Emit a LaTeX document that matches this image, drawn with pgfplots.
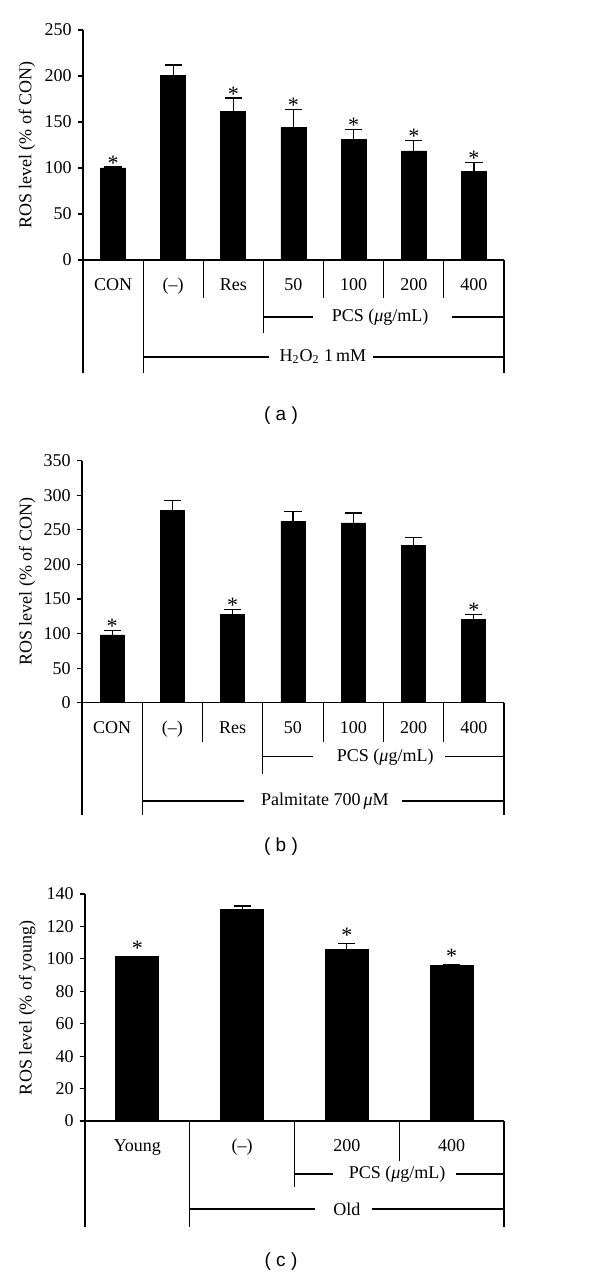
\documentclass[border=0pt]{standalone}
\usepackage{pgfplots}
\pgfplotsset{compat=1.18}
\usepackage{fontspec}
\setmainfont{Liberation Serif}
\newfontfamily\capfont{Liberation Sans}

\pgfplotsset{
  rosbar/.style={
    scale only axis,
    anchor=south west,
    axis x line*=bottom,
    axis y line*=left,
    axis line style={-, line width=0.6pt},
    enlargelimits=false,
    ymin=0,
    clip=false,
    tick align=outside,
    ytick pos=left,
    major tick length=2.5pt,
    major x tick style={draw=none},
    every tick/.style={black, line width=0.6pt},
    /pgf/number format/assume math mode=true,
    tick label style={font=\fontsize{9}{10}\selectfont},
    label style={font=\fontsize{9}{10}\selectfont},
  },
  barstyle/.style={ybar, bar width=#1, fill=black, draw=black,
    error bars/.cd, y dir=plus, y explicit,
    error bar style={line width=0.6pt, black},
    error mark options={rotate=90, mark size=4.3pt, line width=0.6pt, black}},
  starstyle/.style={draw=none, nodes near coords={*},
    every node near coord/.append style={anchor=base, inner sep=0pt,
      font=\fontsize{11}{12}\selectfont, yshift=#1}},
}

\begin{document}
\fontsize{9}{10.8}\selectfont
\begin{tikzpicture}
\path[use as bounding box] (0,0) rectangle (300pt,-638.5pt);

% ---------------- (a) ----------------
\begin{axis}[rosbar,
  at={(41.5pt,-130pt)}, width=210.5pt, height=115pt,
  xmin=-0.5, xmax=6.5, ymax=250,
  ytick={0,50,100,150,200,250},
  xtick={0,1,2,3,4,5,6},
  xticklabels={CON,(–),Res,50,100,200,400},
  xticklabel style={anchor=base, yshift=-13pt},
  ylabel={ROS level (\% of CON)},
  ylabel style={at={(axis description cs:-0.133,0.5)}, anchor=center},
]
\addplot[barstyle=12.5pt] coordinates {
  (0,100) +- (0,1)
  (1,201) +- (0,11)
  (2,161) +- (0,15)
  (3,144) +- (0,20)
  (4,131) +- (0,11)
  (5,118.5) +- (0,11)
  (6,96) +- (0,10)
};
\addplot[starstyle=-1.5pt] coordinates {
  (0,101) (2,176) (3,164) (4,142) (5,129.5) (6,106)
};
\draw[line width=0.6pt] (axis cs:-0.5,0) -- (axis cs:-0.5,-122.8);
\draw[line width=0.6pt] (axis cs:0.5,0) -- (axis cs:0.5,-122.8);
\draw[line width=0.6pt] (axis cs:1.5,0) -- (axis cs:1.5,-41.3);
\draw[line width=0.6pt] (axis cs:2.5,0) -- (axis cs:2.5,-79.3);
\draw[line width=0.6pt] (axis cs:3.5,0) -- (axis cs:3.5,-41.3);
\draw[line width=0.6pt] (axis cs:4.5,0) -- (axis cs:4.5,-41.3);
\draw[line width=0.6pt] (axis cs:5.5,0) -- (axis cs:5.5,-41.3);
\draw[line width=0.6pt] (axis cs:6.5,0) -- (axis cs:6.5,-122.8);
\draw[line width=0.6pt] (axis cs:2.5,-62) -- (axis cs:3.32,-62);
\draw[line width=0.6pt] (axis cs:5.64,-62) -- (axis cs:6.5,-62);
\node at (axis cs:4.44,-62) {PCS (\textit{μ}g/mL)};
\draw[line width=0.6pt] (axis cs:0.5,-105.4) -- (axis cs:2.59,-105.4);
\draw[line width=0.6pt] (axis cs:4.32,-105.4) -- (axis cs:6.5,-105.4);
\node at (axis cs:3.49,-105.4) {H\textsubscript{2}O\textsubscript{2} 1\,mM};
\end{axis}

% ---------------- (b) ----------------
\begin{axis}[rosbar,
  at={(41pt,-351.35pt)}, width=211pt, height=121pt,
  xmin=-0.5, xmax=6.5, ymax=350,
  ytick={0,50,100,150,200,250,300,350},
  xtick={0,1,2,3,4,5,6},
  xticklabels={CON,(–),Res,50,100,200,400},
  xticklabel style={anchor=base, yshift=-12.8pt},
  ylabel={ROS level (\% of CON)},
  ylabel style={at={(axis description cs:-0.130,0.5)}, anchor=center},
]
\addplot[barstyle=12pt] coordinates {
  (0,98) +- (0,6.6)
  (1,278) +- (0,14)
  (2,127.3) +- (0,7.7)
  (3,262.3) +- (0,14)
  (4,260) +- (0,14.4)
  (5,227) +- (0,12)
  (6,120) +- (0,7.3)
};
\addplot[starstyle=-1.5pt] coordinates {
  (0,104.6) (2,135) (6,127.3)
};
\draw[line width=0.6pt] (axis cs:-0.5,0) -- (axis cs:-0.5,-162.4);
\draw[line width=0.6pt] (axis cs:0.5,0) -- (axis cs:0.5,-162.4);
\draw[line width=0.6pt] (axis cs:1.5,0) -- (axis cs:1.5,-56.4);
\draw[line width=0.6pt] (axis cs:2.5,0) -- (axis cs:2.5,-103.1);
\draw[line width=0.6pt] (axis cs:3.5,0) -- (axis cs:3.5,-56.4);
\draw[line width=0.6pt] (axis cs:4.5,0) -- (axis cs:4.5,-56.4);
\draw[line width=0.6pt] (axis cs:5.5,0) -- (axis cs:5.5,-56.4);
\draw[line width=0.6pt] (axis cs:6.5,0) -- (axis cs:6.5,-162.4);
\draw[line width=0.6pt] (axis cs:2.5,-78.1) -- (axis cs:3.33,-78.1);
\draw[line width=0.6pt] (axis cs:5.52,-78.1) -- (axis cs:6.5,-78.1);
\node at (axis cs:4.53,-78.1) {PCS (\textit{μ}g/mL)};
\draw[line width=0.6pt] (axis cs:0.5,-142.2) -- (axis cs:2.19,-142.2);
\draw[line width=0.6pt] (axis cs:4.81,-142.2) -- (axis cs:6.5,-142.2);
\node at (axis cs:3.53,-142.2) {Palmitate 700\,\textit{μ}M};
\end{axis}

% ---------------- (c) ----------------
\begin{axis}[rosbar,
  at={(42.5pt,-560.5pt)}, width=209.5pt, height=113.5pt,
  xmin=-0.5, xmax=3.5, ymax=140,
  ytick={0,20,40,60,80,100,120,140},
  xtick={0,1,2,3},
  xticklabels={Young,(–),200,400},
  xticklabel style={anchor=base, yshift=-12.8pt},
  ylabel={ROS level (\% of young)},
  ylabel style={at={(axis description cs:-0.138,0.5)}, anchor=center},
]
\addplot[barstyle=21.5pt] coordinates {
  (0,101.4) +- (0,0.3)
  (1,130.5) +- (0,2.1)
  (2,106) +- (0,3.5)
  (3,95.8) +- (0,0.8)
};
\addplot[starstyle=0.5pt] coordinates {
  (0,101.7) (2,109.5) (3,96.6)
};
\draw[line width=0.6pt] (axis cs:-0.5,0) -- (axis cs:-0.5,-65.2);
\draw[line width=0.6pt] (axis cs:0.5,0) -- (axis cs:0.5,-65.2);
\draw[line width=0.6pt] (axis cs:1.5,0) -- (axis cs:1.5,-40.5);
\draw[line width=0.6pt] (axis cs:2.5,0) -- (axis cs:2.5,-24.5);
\draw[line width=0.6pt] (axis cs:3.5,0) -- (axis cs:3.5,-65.2);
\draw[line width=0.6pt] (axis cs:1.5,-32.7) -- (axis cs:1.87,-32.7);
\draw[line width=0.6pt] (axis cs:3.04,-32.7) -- (axis cs:3.5,-32.7);
\node at (axis cs:2.48,-32.7) {PCS (\textit{μ}g/mL)};
\draw[line width=0.6pt] (axis cs:0.5,-54.3) -- (axis cs:1.70,-54.3);
\draw[line width=0.6pt] (axis cs:2.24,-54.3) -- (axis cs:3.5,-54.3);
\node at (axis cs:2.0,-54.3) {Old};
\end{axis}

\node[font=\capfont\fontsize{9.5}{11}\selectfont] at (140.5pt,-208pt) {( a )};
\node[font=\capfont\fontsize{9.5}{11}\selectfont] at (140.5pt,-423.5pt) {( b )};
\node[font=\capfont\fontsize{9.5}{11}\selectfont] at (140.5pt,-631pt) {( c )};
\end{tikzpicture}
\end{document}
